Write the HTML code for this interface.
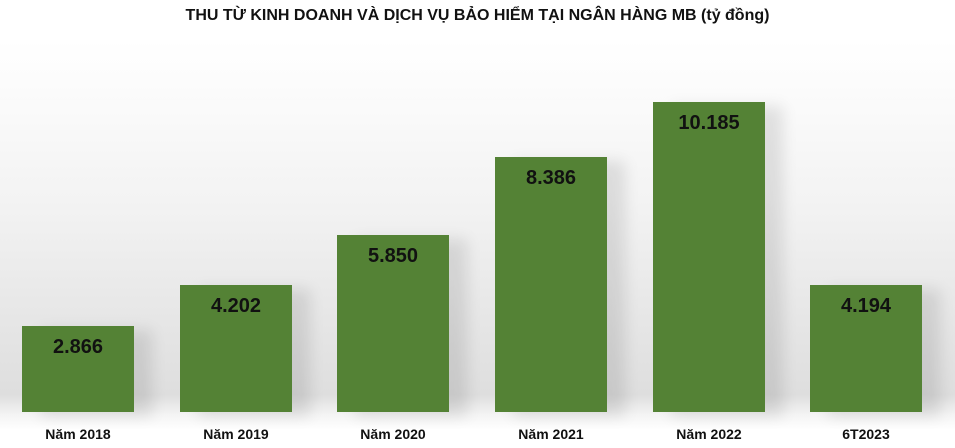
<!DOCTYPE html>
<html><head><meta charset="utf-8"><style>
body{margin:0;width:955px;height:448px;overflow:hidden;position:relative;font-family:"Liberation Sans",sans-serif;
background:linear-gradient(#fff 0px,#fff 40px,#f3f3f3 200px,#dedede 395px,#f4f4f4 415px,#fff 430px);}
.t{position:absolute;top:7px;left:0;width:955px;text-align:center;font-weight:bold;font-size:16px;color:#111}
.b{position:absolute;background:#548235;width:112px;bottom:36px;box-shadow:18px 4px 14px rgba(0,0,0,0.10)}
.v{position:absolute;top:10px;width:100%;text-align:center;font-weight:bold;font-size:20px;color:#111}
.c{position:absolute;top:426px;width:140px;text-align:center;font-weight:bold;font-size:14px;color:#111}
</style></head><body>
<div class="t">THU TỪ KINH DOANH VÀ DỊCH VỤ BẢO HIỂM TẠI NGÂN HÀNG MB (tỷ đồng)</div>
<div class="b" style="left:22px;top:326px"><div class="v">2.866</div></div>
<div class="b" style="left:180px;top:285px"><div class="v">4.202</div></div>
<div class="b" style="left:337px;top:235px"><div class="v">5.850</div></div>
<div class="b" style="left:495px;top:157px"><div class="v">8.386</div></div>
<div class="b" style="left:653px;top:102px"><div class="v">10.185</div></div>
<div class="b" style="left:810px;top:285px"><div class="v">4.194</div></div>
<div class="c" style="left:8px">Năm 2018</div>
<div class="c" style="left:166px">Năm 2019</div>
<div class="c" style="left:323px">Năm 2020</div>
<div class="c" style="left:481px">Năm 2021</div>
<div class="c" style="left:639px">Năm 2022</div>
<div class="c" style="left:796px">6T2023</div>
</body></html>
